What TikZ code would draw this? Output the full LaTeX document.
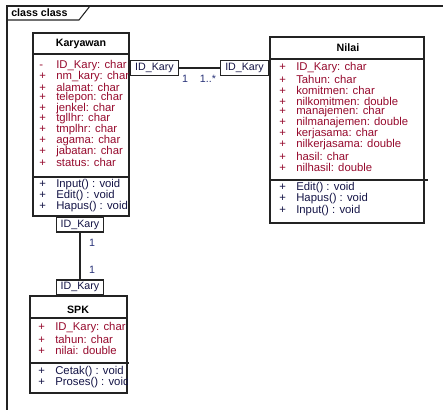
\documentclass[tikz,border=0pt]{standalone}
\usepackage{fontspec}
\setmainfont{Liberation Sans}
\usetikzlibrary{fit}
\definecolor{attrred}{RGB}{150,10,45}
\definecolor{opnavy}{RGB}{20,20,70}
\definecolor{multblue}{RGB}{40,50,120}
\definecolor{linegray}{RGB}{35,35,35}
\newcommand{\vis}[1]{\makebox[12.75pt][l]{#1}}
\tikzset{
  classbox/.style={draw=linegray, line width=1.1pt, inner sep=0pt},
  classline/.style={linegray, line width=1.1pt},
  classname/.style={font=\bfseries\fontsize{8}{9}\selectfont, inner sep=0pt},
  attr/.style={anchor=west, inner sep=0pt, text=attrred, font=\fontsize{8.5}{10}\selectfont},
  oper/.style={anchor=west, inner sep=0pt, text=opnavy, font=\fontsize{8.5}{10}\selectfont},
  qual/.style={draw=linegray, line width=1.1pt, fill=white, inner sep=0pt,
    minimum width=35pt, minimum height=11pt, text=opnavy, font=\fontsize{8}{9}\selectfont},
  mult/.style={text=multblue, font=\fontsize{8}{9}\selectfont, inner sep=0pt},
  assoc/.style={linegray, line width=0.8pt}
}
\begin{document}
\begin{tikzpicture}[x=0.75pt, y=-0.75pt]
\useasboundingbox (0,0) rectangle (443,410);
% frame
\draw[linegray, line width=0.8pt] (7,410) -- (7,6) -- (443,6);
\draw[linegray, line width=0.8pt] (7,20) -- (79,20) -- (90,6);
\node[anchor=west, inner sep=0pt, font=\bfseries\fontsize{8}{9}\selectfont] (frame) at (11,13) {class class};
% Karyawan
\node[classbox, fit={(33,33) (129,216)}] (kary) {};
\node[classname] (karyname) at (81,44) {Karyawan};
\draw[classline] (33,54) -- (129,54) (33,177) -- (129,177);
\scope
\clip (33,33) rectangle (129,216);
\node[attr] (ka1) at (39,66) {\vis{-}ID\_Kary: char};
\node[attr] (ka2) at (39,76.5) {\vis{+}nm\_kary: char};
\node[attr] (ka3) at (39,87) {\vis{+}alamat: char};
\node[attr] (ka4) at (39,97.5) {\vis{+}telepon: char};
\node[attr] (ka5) at (39,108.5) {\vis{+}jenkel: char};
\node[attr] (ka6) at (39,119) {\vis{+}tgllhr: char};
\node[attr] (ka7) at (39,130) {\vis{+}tmplhr: char};
\node[attr] (ka8) at (39,141) {\vis{+}agama: char};
\node[attr] (ka9) at (39,152) {\vis{+}jabatan: char};
\node[attr] (ka10) at (39,162) {\vis{+}status: char};
\node[oper] (ko1) at (39,185) {\vis{+}Input() : void};
\node[oper] (ko2) at (39,196) {\vis{+}Edit() : void};
\node[oper] (ko3) at (39,207) {\vis{+}Hapus() : void};
\endscope
% Nilai
\node[classbox, fit={(270,37) (424,223)}] (nilai) {};
\node[classname] (nilainame) at (348,48) {Nilai};
\draw[classline] (270,59) -- (424,59) (270,180) -- (428,180);
\node[attr] (na1) at (279,68) {\vis{+}ID\_Kary: char};
\node[attr] (na2) at (279,79) {\vis{+}Tahun: char};
\node[attr] (na3) at (279,90.5) {\vis{+}komitmen: char};
\node[attr] (na4) at (279,101) {\vis{+}nilkomitmen: double};
\node[attr] (na5) at (279,112) {\vis{+}manajemen: char};
\node[attr] (na6) at (279,123) {\vis{+}nilmanajemen: double};
\node[attr] (na7) at (279,134) {\vis{+}kerjasama: char};
\node[attr] (na8) at (279,145) {\vis{+}nilkerjasama: double};
\node[attr] (na9) at (279,156.5) {\vis{+}hasil: char};
\node[attr] (na10) at (279,167) {\vis{+}nilhasil: double};
\node[oper] (no1) at (279,188) {\vis{+}Edit() : void};
\node[oper] (no2) at (279,199) {\vis{+}Hapus() : void};
\node[oper] (no3) at (279,210.5) {\vis{+}Input() : void};
% SPK
\node[classbox, fit={(30,296) (127,393)}] (spk) {};
\node[classname] (spkname) at (78,310) {SPK};
\draw[classline] (30,318) -- (127,318) (30,363) -- (129,363);
\scope
\clip (30,296) rectangle (127,393);
\node[attr] (sa1) at (38,328) {\vis{+}ID\_Kary: char};
\node[attr] (sa2) at (38,339) {\vis{+}tahun: char};
\node[attr] (sa3) at (38,350) {\vis{+}nilai: double};
\node[oper] (so1) at (38,372) {\vis{+}Cetak() : void};
\node[oper] (so2) at (38,383) {\vis{+}Proses() : void};
\endscope
% qualifiers
\node[qual, anchor=west, minimum width=36pt] (kq1) at (kary.east |- 0,68) {ID\_Kary};
\node[qual, anchor=east, minimum width=36pt] (nq1) at (nilai.west |- 0,68) {ID\_Kary};
\node[qual, anchor=north] (kq2) at (kary.south -| 80,0) {ID\_Kary};
\node[qual, anchor=south] (sq2) at (spk.north -| 80,0) {ID\_Kary};
% associations
\draw[assoc] (kq1) -- (nq1);
\draw[assoc] (kq2) -- (sq2);
\node[mult] (m1) at (185,79) {1};
\node[mult] (m2) at (208,79) {1..*};
\node[mult] (m3) at (92,243) {1};
\node[mult] (m4) at (92,270) {1};
\end{tikzpicture}
\end{document}
